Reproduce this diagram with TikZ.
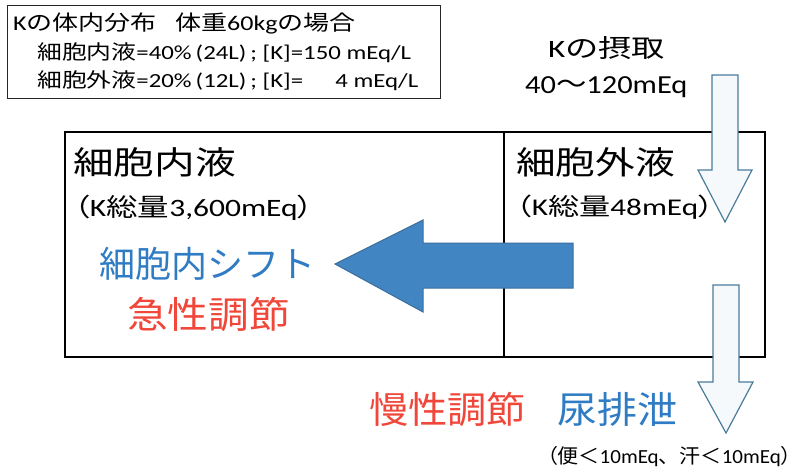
\documentclass[tikz,border=0pt]{standalone}
\usepackage{graphicx}
\usepackage{fontspec}
\setmainfont{Carlito}
\newfontfamily\cjk{Noto Sans CJK JP}
\newfontfamily\cjkp[RawFeature=+palt]{Noto Sans CJK JP}
\newcommand\J[1]{{\cjk #1}}
\newcommand\SX[2]{\scalebox{#1}[1]{#2}}
\newcommand\LP{{\cjkp（}}
\newcommand\RP{{\cjkp）}}
\definecolor{txtblue}{HTML}{2F7CC4}
\definecolor{txtred}{HTML}{F0473A}
\definecolor{bigfill}{HTML}{4186C3}
\definecolor{bigedge}{HTML}{3A6E9C}
\definecolor{outedge}{HTML}{4A7C9C}
\definecolor{outfill}{HTML}{F5F9FB}
\tikzset{
  lbl/.style={anchor=west,inner sep=0pt},
  fs/.style={font=\fontsize{#1}{#1}\selectfont},
  jfs/.style={font=\cjk\fontsize{#1}{#1}\selectfont},
  outarrow/.style={draw=outedge,fill=outfill,line width=1.2pt,line join=miter},
}
\begin{document}
\begin{tikzpicture}[x=1pt,y=-1pt]
\useasboundingbox (0,0) rectangle (808,468);
\fill[white] (0,0) rectangle (808,468);
% info box
\draw[line width=0.9pt,black!85] (7,5) rectangle (440,98);
\node[lbl,fs=21] (t1) at (13,23) {\SX{1.24}{K\J{の体内分布}\hspace{0.7em}\J{体重}60kg\J{の場合}}};
\node[lbl,fs=20] (t2) at (37,53) {\SX{1.24}{\J{細胞内液}=40\%\,(24L)\,; [K]=150 mEq/L}};
\node[lbl,fs=20] (t3) at (37,81) {\SX{1.24}{\J{細胞外液}=20\%\,(12L)\,; [K]=\hspace{1.3em}4 mEq/L}};
% main compartments
\draw[line width=1.8pt] (65,132) rectangle (765,357);
\draw[line width=1.8pt] (504,132) -- (504,357);
\node[lbl,jfs=32] (icf) at (73,162) {\SX{1.27}{細胞内液}};
\node[lbl,fs=25] (icft) at (74,208) {\SX{1.26}{\LP K\J{総量}3,600mEq\RP}};
\node[lbl,jfs=32] (ecf) at (516,162) {\SX{1.24}{細胞外液}};
\node[lbl,fs=24] (ecft) at (516,207) {\SX{1.3}{\LP K\J{総量}48mEq\RP}};
% intake
\node[lbl,fs=25] (intake) at (548,48) {\SX{1.33}{K\J{の摂取}}};
\node[lbl,fs=26] (intake2) at (525,87) {\SX{1.17}{40\J{～}120mEq}};
% big shift arrow
\draw[fill=bigfill,draw=bigedge,line width=1pt]
  (335,264) -- (423,220) -- (423,243) -- (573,243) -- (573,288) -- (423,288) -- (423,312) -- cycle;
\node[lbl,text=txtblue,jfs=36] (shift) at (99,264) {細胞内シフト};
\node[lbl,text=txtred,jfs=37] (acute) at (127,314) {\SX{1.1}{急性調節}};
% in / out arrows
\draw[outarrow] (712,75) -- (738,75) -- (738,170) -- (752,170) -- (725,222) -- (698,170) -- (712,170) -- cycle;
\draw[outarrow] (713,285) -- (739,285) -- (739,382) -- (753,382) -- (726,433) -- (698,382) -- (713,382) -- cycle;
\node[lbl,text=txtred,jfs=37] (chronic) at (369,409) {\SX{1.06}{慢性調節}};
\node[lbl,text=txtblue,jfs=37] (urine) at (557,409) {\SX{1.08}{尿排泄}};
\node[lbl,fs=20] (other) at (547,457) {\SX{1.05}{\LP\J{便＜}10mEq\J{、汗＜}10mEq\RP}};
\end{tikzpicture}
\end{document}
